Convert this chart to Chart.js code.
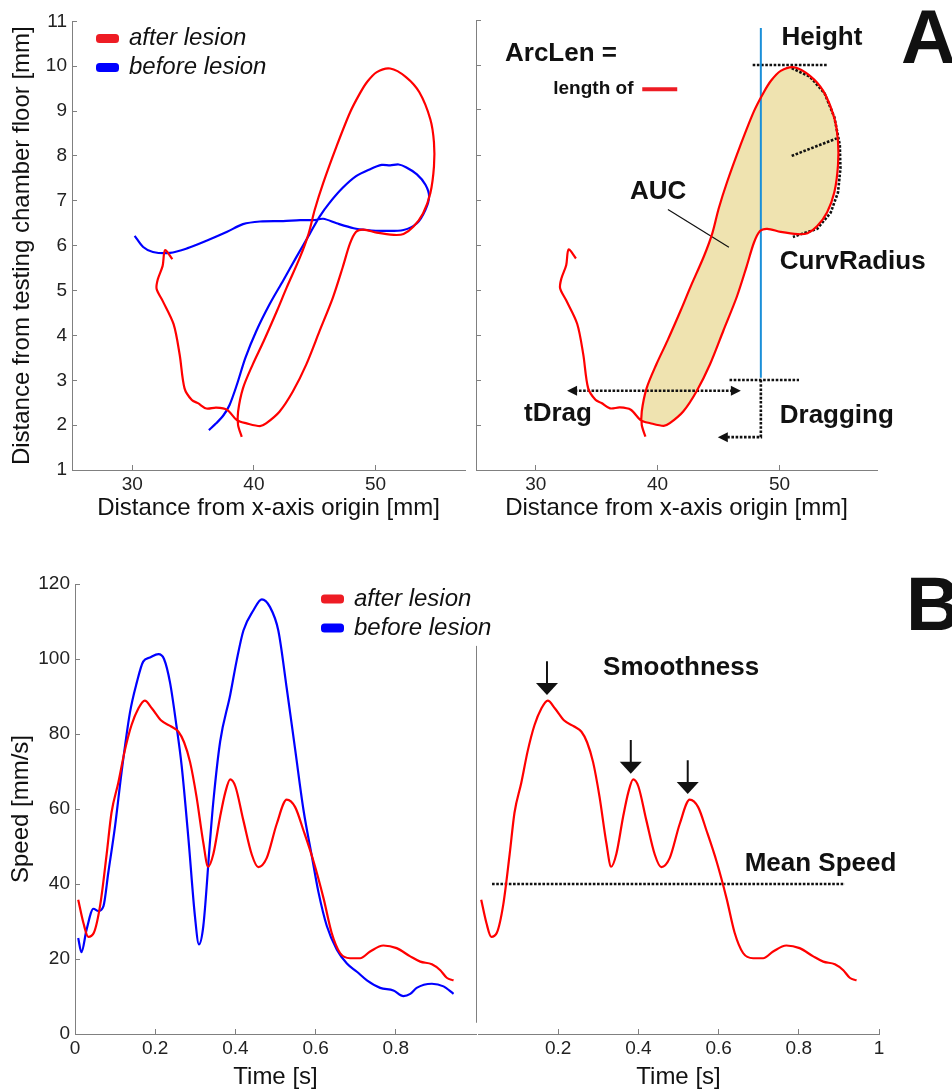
<!DOCTYPE html>
<html>
<head>
<meta charset="utf-8">
<script src="https://cdn.jsdelivr.net/npm/chart.js@4.4.1/dist/chart.umd.min.js"></script>
<style>
    body { margin: 0; background: #fff; }
    #wrap { position: relative; width: 952px; height: 1092px; }
    #wrap canvas { position: absolute; left: 0; top: 0; }
</style>
</head>
<body>
<div id="wrap">
    <canvas id="trajBoth" width="952" height="1092"></canvas>
    <canvas id="trajAfter" width="952" height="1092"></canvas>
    <canvas id="speedBoth" width="952" height="1092"></canvas>
    <canvas id="speedAfter" width="952" height="1092"></canvas>
</div>
<script>
// paw trajectory, distance from x-axis origin / from chamber floor [mm]
const afterX = [33.3, 32.7, 32.5, 32.1, 32.0, 32.5, 33.4, 33.9, 34.3, 34.9, 35.4, 36.1, 36.9, 37.8,
    38.6, 39.4, 40.5, 41.0, 42.1, 43.2, 44.3, 45.4, 46.5, 47.3, 47.9, 48.4, 49.0, 50.1, 51.5, 52.3,
    53.1, 53.9, 54.5, 54.8, 54.8, 54.5, 53.6, 52.5, 51.2, 50.1, 49.3, 48.7, 47.9, 46.8, 45.7, 45.0,
    44.5, 43.8, 42.7, 41.9, 40.8, 39.9, 39.1, 38.7, 38.7, 39.0];
const afterY = [5.70, 5.90, 5.55, 5.25, 5.04, 4.77, 4.25, 3.57, 2.82, 2.56, 2.49, 2.37, 2.39, 2.34,
    2.11, 2.04, 1.98, 2.04, 2.30, 2.75, 3.35, 4.10, 4.85, 5.52, 6.05, 6.31, 6.36, 6.29, 6.24, 6.26,
    6.42, 6.72, 7.17, 7.77, 8.30, 8.82, 9.42, 9.76, 9.95, 9.87, 9.65, 9.39, 8.97, 8.22, 7.40, 6.80,
    6.27, 5.75, 5.07, 4.55, 3.87, 3.35, 2.82, 2.30, 2.00, 1.74];
const beforeX = [30.2, 30.9, 31.7, 33.1, 34.5, 36.1, 37.8, 39.1, 40.5, 42.4, 43.8, 44.9, 45.7, 46.8,
    48.2, 49.3, 50.6, 52.3, 53.4, 54.1, 54.4, 54.1, 53.4, 52.5, 51.9, 51.2, 50.5, 49.5, 48.4, 47.3,
    46.2, 45.4, 44.6, 43.5, 42.4, 41.3, 40.2, 39.3, 38.6, 38.0, 37.5, 36.9, 36.3];
const beforeY = [6.22, 5.97, 5.86, 5.84, 5.94, 6.11, 6.31, 6.48, 6.54, 6.55, 6.57, 6.57, 6.60, 6.50,
    6.39, 6.35, 6.33, 6.35, 6.50, 6.80, 7.10, 7.36, 7.59, 7.75, 7.81, 7.79, 7.80, 7.70, 7.55, 7.29,
    6.95, 6.65, 6.27, 5.75, 5.22, 4.70, 4.10, 3.50, 2.90, 2.45, 2.22, 2.04, 1.89];

// speed profiles [s] / [mm/s]
const afterTime = [0.008, 0.021, 0.033, 0.047, 0.063, 0.079, 0.091, 0.108, 0.124, 0.141, 0.158, 0.174,
    0.192, 0.215, 0.240, 0.258, 0.272, 0.287, 0.303, 0.320, 0.332, 0.345, 0.362, 0.375, 0.387, 0.400,
    0.420, 0.441, 0.457, 0.478, 0.503, 0.528, 0.549, 0.570, 0.595, 0.620, 0.640, 0.661, 0.686, 0.711,
    0.736, 0.769, 0.802, 0.836, 0.861, 0.890, 0.911, 0.927, 0.944];
const afterSpeed = [35.8, 29.6, 25.9, 27.0, 34.5, 48.0, 59.0, 67.0, 75.5, 82.4, 86.8, 88.9,
    86.8, 83.6, 82.0, 80.6, 77.8, 72.5, 63.3, 51.0, 44.6, 48.0, 58.0, 64.5, 67.9, 66.0,
    56.9, 47.8, 44.5, 46.9, 56.0, 62.5, 60.5, 54.2, 46.0, 36.1, 27.0, 21.6, 20.2, 20.2,
    22.0, 23.6, 22.9, 20.7, 19.3, 18.6, 17.0, 15.0, 14.3];
const beforeTime = [0.008, 0.016, 0.029, 0.046, 0.058, 0.071, 0.083, 0.100, 0.116, 0.137, 0.154, 0.170,
    0.187, 0.208, 0.222, 0.237, 0.253, 0.266, 0.283, 0.299, 0.309, 0.320, 0.337, 0.345, 0.362, 0.387,
    0.403, 0.420, 0.445, 0.466, 0.486, 0.507, 0.528, 0.549, 0.570, 0.590, 0.607, 0.628, 0.653, 0.678,
    0.703, 0.728, 0.761, 0.794, 0.819, 0.836, 0.852, 0.890, 0.919, 0.944];
const beforeSpeed = [25.6, 21.8, 27.9, 33.4, 32.8, 34.1, 43.0, 55.5, 69.7, 85.7, 93.7, 99.3,
    100.4, 101.3, 100.0, 93.7, 82.2, 71.5, 51.9, 31.5, 23.9, 28.8, 51.9, 62.0, 78.0, 90.4,
    99.5, 107.6, 113.0, 115.9, 113.9, 107.6, 92.2, 75.9, 59.6, 47.8, 37.9, 28.8, 22.5, 18.8,
    16.6, 14.3, 12.3, 11.6, 10.1, 10.7, 12.3, 13.4, 12.7, 10.7];

const seriesNames = ["after lesion", "before lesion"];
const posTicks = [30, 40, 50];
const heightTicks = [1, 2, 3, 4, 5, 6, 7, 8, 9, 10, 11];
const speedTicks = [0, 20, 40, 60, 80, 100, 120];
const timeTicksLeft = [0, 0.2, 0.4, 0.6, 0.8];
const timeTicksRight = [0.2, 0.4, 0.6, 0.8, 1];

const aucFrom = 14;          // swing loop starts here in afterX/afterY
const meanSpeed = 40;
const peakTimes = [0.172, 0.381, 0.523];
const peakSpeeds = [88.9, 67.9, 62.5];

const RED = "#ff0000";
const BLUE = "#0000ff";
const AXIS = "#808080";
const INK = "#111111";
const FONT = "'Liberation Sans', Arial, Helvetica, sans-serif";
Chart.defaults.font.family = FONT;
Chart.defaults.color = "#222";

const pts = (xs, ys) => xs.map((x, i) => ({ x: x, y: ys[i] }));
const line = (data, color, width, extra) =>
    Object.assign({ data: data, borderColor: color, borderWidth: width, showLine: true, pointRadius: 0, fill: false, tension: 0 }, extra || {});
const dotted = (data) => line(data, INK, 2.6, { borderDash: [2.6, 1.6], order: 2 });

function axisX(min, max, ticks, title, size, titlePad) {
    return {
        type: "linear",
        min: min,
        max: max,
        afterBuildTicks: (s) => { s.ticks = ticks.map((v) => ({ value: v })); },
        afterFit: (s) => { s.height = size; },
        ticks: { padding: 8, font: { size: 19 }, color: "#222", maxRotation: 0, callback: (v) => String(v) },
        grid: { drawOnChartArea: false, tickLength: -5, color: AXIS },
        border: { color: AXIS },
        title: { display: true, text: title, color: INK, font: { size: 24 }, padding: { top: 0, bottom: titlePad } },
    };
}

function axisY(min, max, ticks, title, size, showLabels) {
    return {
        type: "linear",
        min: min,
        max: max,
        afterBuildTicks: (s) => { s.ticks = ticks.map((v) => ({ value: v })); },
        afterFit: (s) => { s.width = size; },
        ticks: { display: showLabels, padding: 10, font: { size: 19 }, color: "#222", callback: (v) => String(v) },
        grid: { drawOnChartArea: false, tickLength: -5, color: AXIS },
        border: { color: AXIS },
        title: { display: !!title, text: title || "", color: INK, font: { size: 24 }, padding: 0 },
    };
}

function baseOptions(area, yW, xH, scales) {
    return {
        responsive: false,
        animation: false,
        devicePixelRatio: 1,
        layout: { padding: { left: area.left - yW, top: area.top, right: 952 - area.right, bottom: 1092 - area.bottom - xH } },
        plugins: { legend: { display: false }, tooltip: { enabled: false } },
        scales: scales,
    };
}

function legendPlugin(colors, dx, dy) {
    return {
        id: "legendBox",
        afterDraw(chart) {
            const { ctx, chartArea } = chart;
            ctx.save();
            seriesNames.forEach((name, i) => {
                const x = chartArea.left + dx;
                const y = chartArea.top + dy + i * 29;
                ctx.fillStyle = colors[i];
                ctx.beginPath();
                ctx.roundRect(x, y - 4.5, 23, 9, 3.5);
                ctx.fill();
                ctx.fillStyle = INK;
                ctx.font = "italic 24px " + FONT;
                ctx.textBaseline = "middle";
                ctx.fillText(name, x + 33, y);
            });
            ctx.restore();
        },
    };
}

function head(ctx, px, py, angle, len, half) {
    ctx.save();
    ctx.translate(px, py);
    ctx.rotate(angle);
    ctx.beginPath();
    ctx.moveTo(0, 0);
    ctx.lineTo(-len, -half);
    ctx.lineTo(-len, half);
    ctx.closePath();
    ctx.fill();
    ctx.restore();
}

function labelsPlugin(labels, letter) {
    return {
        id: "notes",
        afterDatasetsDraw(chart) {
            const { ctx, scales } = chart;
            ctx.save();
            ctx.fillStyle = INK;
            ctx.textBaseline = "middle";
            labels.forEach((l) => {
                ctx.font = "bold " + l.size + "px " + FONT;
                ctx.fillText(l.text, scales.x.getPixelForValue(l.x), scales.y.getPixelForValue(l.y));
            });
            ctx.textBaseline = "alphabetic";
            ctx.font = "bold 76px " + FONT;
            ctx.fillText(letter.text, letter.left, letter.base);
            ctx.restore();
        },
    };
}

// ---- A, left: both trajectories
new Chart(document.getElementById("trajBoth"), {
    type: "scatter",
    data: {
        datasets: [
            line(pts(afterX, afterY), RED, 2.2, { tension: 0.3 }),
            line(pts(beforeX, beforeY), BLUE, 2.2, { tension: 0.3 }),
        ],
    },
    options: baseOptions({ left: 72, right: 465, top: 20, bottom: 470 }, 64, 55, {
        x: axisX(25.05, 57.35, posTicks, "Distance from x-axis origin [mm]", 55, 2),
        y: axisY(1, 11, heightTicks, "Distance from testing chamber floor [mm]", 64, true),
    }),
    plugins: [legendPlugin(["#ee1c24", BLUE], 24, 17)],
});

// ---- A, right: after lesion with kinematic parameters
const trajLabels = [
    { text: "ArcLen =", x: 27.48, y: 10.25, size: 26 },
    { text: "length of", x: 31.44, y: 9.47, size: 19 },
    { text: "Height", x: 50.16, y: 10.61, size: 26 },
    { text: "AUC", x: 37.73, y: 7.18, size: 26 },
    { text: "CurvRadius", x: 50.02, y: 5.62, size: 26 },
    { text: "tDrag", x: 29.04, y: 2.25, size: 26 },
    { text: "Dragging", x: 50.02, y: 2.2, size: 26 },
];
const curvArc = [
    { x: 51.0, y: 9.93 }, { x: 52.5, y: 9.74 }, { x: 53.7, y: 9.37 }, { x: 54.5, y: 8.84 },
    { x: 54.95, y: 8.22 }, { x: 55.0, y: 7.70 }, { x: 54.8, y: 7.17 }, { x: 54.2, y: 6.72 },
    { x: 53.1, y: 6.36 }, { x: 51.1, y: 6.18 },
];
const dragArrowHeads = [
    { x: 32.57, y: 2.76, dir: Math.PI },
    { x: 46.83, y: 2.76, dir: 0 },
    { x: 44.94, y: 1.73, dir: Math.PI },
];
const trajNotes = labelsPlugin(trajLabels, { text: "A", left: 901, base: 63 });
const trajHeads = {
    id: "heads",
    afterDatasetsDraw(chart) {
        const { ctx, scales } = chart;
        ctx.save();
        ctx.fillStyle = INK;
        dragArrowHeads.forEach((h) => head(ctx, scales.x.getPixelForValue(h.x), scales.y.getPixelForValue(h.y), h.dir, 10, 5));
        ctx.restore();
    },
};

new Chart(document.getElementById("trajAfter"), {
    type: "scatter",
    data: {
        datasets: [
            line(pts(afterX, afterY), RED, 2.2, { tension: 0.3, order: 0 }),
            line(pts(afterX.slice(aucFrom, -1), afterY.slice(aucFrom, -1)), "rgba(0,0,0,0)", 0,
                { tension: 0.3, fill: "shape", backgroundColor: "#efe3b0", order: 9 }),
            line([{ x: 48.47, y: 10.82 }, { x: 48.47, y: 3.05 }], "#1a8fd8", 2, { order: 1 }),
            line([{ x: 40.85, y: 6.79 }, { x: 45.85, y: 5.95 }], INK, 1.2, { order: 2 }),
            line([{ x: 38.74, y: 9.46 }, { x: 41.61, y: 9.46 }], "#ee1c24", 4, { order: 2 }),
            dotted([{ x: 47.8, y: 10.0 }, { x: 54.0, y: 10.0 }]),
            dotted(curvArc),
            dotted([{ x: 51.0, y: 7.98 }, { x: 54.7, y: 8.37 }]),
            dotted([{ x: 33.2, y: 2.76 }, { x: 46.2, y: 2.76 }]),
            dotted([{ x: 45.9, y: 3.0 }, { x: 51.6, y: 3.0 }]),
            dotted([{ x: 48.47, y: 3.0 }, { x: 48.47, y: 1.73 }, { x: 45.5, y: 1.73 }]),
        ],
    },
    options: baseOptions({ left: 476, right: 877, top: 20, bottom: 470 }, 10, 55, {
        x: axisX(25.1, 58.0, posTicks, "Distance from x-axis origin [mm]", 55, 2),
        y: axisY(1, 11, heightTicks, "", 10, false),
    }),
    plugins: [trajNotes, trajHeads],
});

// ---- B, left: both speed profiles
new Chart(document.getElementById("speedBoth"), {
    type: "scatter",
    data: {
        datasets: [
            line(pts(afterTime, afterSpeed), RED, 2.2, { cubicInterpolationMode: "monotone" }),
            line(pts(beforeTime, beforeSpeed), BLUE, 2.2, { cubicInterpolationMode: "monotone" }),
        ],
    },
    options: baseOptions({ left: 75, right: 476, top: 584, bottom: 1034 }, 68, 58, {
        x: axisX(0, 1, timeTicksLeft, "Time [s]", 58, 0),
        y: axisY(0, 120, speedTicks, "Speed [mm/s]", 68, true),
    }),
    plugins: [legendPlugin(["#ee1c24", BLUE], 246, 15)],
});

// ---- B, right: after lesion with speed parameters
const speedLabels = [
    { text: "Smoothness", x: 0.312, y: 97.6, size: 26 },
    { text: "Mean Speed", x: 0.665, y: 45.4, size: 26 },
];
const speedNotes = labelsPlugin(speedLabels, { text: "B", left: 906, base: 630 });
const peakArrows = {
    id: "peakArrows",
    afterDatasetsDraw(chart) {
        const { ctx, scales: { x, y }, chartArea } = chart;
        ctx.save();
        // y axis line, shorter than the plot
        ctx.strokeStyle = AXIS;
        ctx.lineWidth = 1;
        ctx.beginPath();
        ctx.moveTo(chartArea.left - 1.5, y.getPixelForValue(103.5));
        ctx.lineTo(chartArea.left - 1.5, y.getPixelForValue(3));
        ctx.stroke();
        ctx.strokeStyle = INK;
        ctx.fillStyle = INK;
        ctx.lineWidth = 2;
        peakTimes.forEach((t, i) => {
            const px = x.getPixelForValue(t);
            const tip = y.getPixelForValue(peakSpeeds[i] + 1.5);
            const top = y.getPixelForValue(peakSpeeds[i] + 10.5);
            ctx.beginPath();
            ctx.moveTo(px, top);
            ctx.lineTo(px, tip - 10);
            ctx.stroke();
            head(ctx, px, tip, Math.PI / 2, 12, 11);
        });
        ctx.restore();
    },
};

new Chart(document.getElementById("speedAfter"), {
    type: "scatter",
    data: {
        datasets: [
            line(pts(afterTime, afterSpeed), RED, 2.2, { cubicInterpolationMode: "monotone", order: 0 }),
            dotted([{ x: 0.035, y: meanSpeed }, { x: 0.915, y: meanSpeed }]),
        ],
    },
    options: baseOptions({ left: 478, right: 879, top: 584, bottom: 1034 }, 0, 58, {
        x: axisX(0, 1, timeTicksRight, "Time [s]", 58, 0),
        y: { type: "linear", min: 0, max: 120, display: false },
    }),
    plugins: [speedNotes, peakArrows],
});
</script>
</body>
</html>
